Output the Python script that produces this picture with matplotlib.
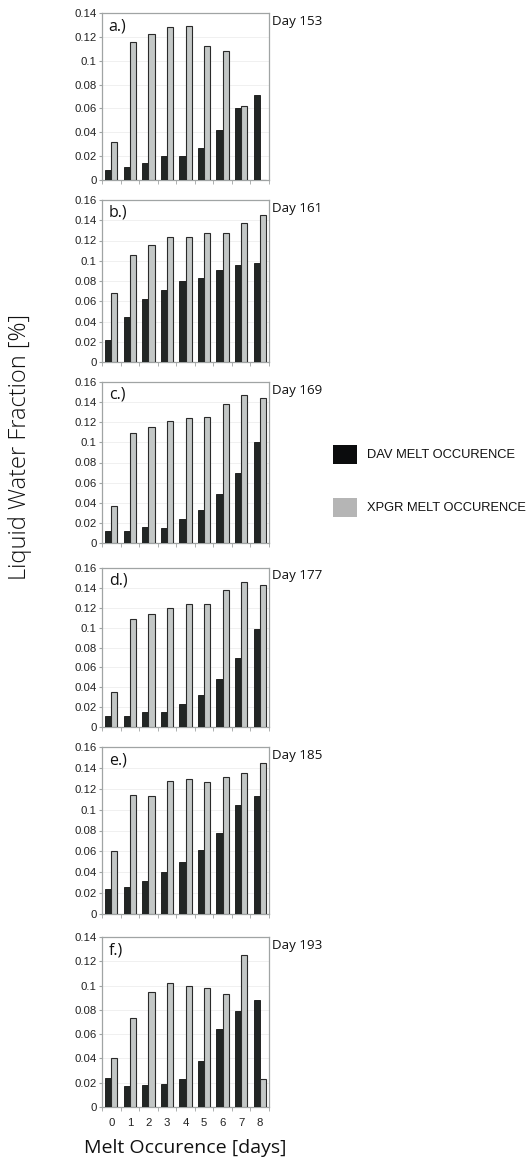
import numpy as np
import matplotlib
matplotlib.use('Agg')
import matplotlib.pyplot as plt
from matplotlib.ticker import FuncFormatter, FixedLocator
from matplotlib.patches import Rectangle

days = [0, 1, 2, 3, 4, 5, 6, 7, 8]
panel_labels = ['a.)', 'b.)', 'c.)', 'd.)', 'e.)', 'f.)']
day_labels = ['Day 153', 'Day 161', 'Day 169', 'Day 177', 'Day 185', 'Day 193']
y_max = [0.14, 0.16, 0.16, 0.16, 0.16, 0.14]

dav_a = [0.008, 0.011, 0.014, 0.020, 0.020, 0.027, 0.042, 0.060, 0.071]
xpgr_a = [0.032, 0.116, 0.122, 0.128, 0.129, 0.112, 0.108, 0.062, 0.0]
dav_b = [0.022, 0.044, 0.062, 0.071, 0.080, 0.083, 0.091, 0.096, 0.098]
xpgr_b = [0.068, 0.106, 0.116, 0.123, 0.123, 0.127, 0.127, 0.137, 0.145]
dav_c = [0.012, 0.012, 0.016, 0.015, 0.024, 0.033, 0.049, 0.070, 0.100]
xpgr_c = [0.037, 0.109, 0.115, 0.121, 0.124, 0.125, 0.138, 0.147, 0.144]
dav_d = [0.011, 0.011, 0.015, 0.015, 0.023, 0.032, 0.048, 0.069, 0.099]
xpgr_d = [0.035, 0.109, 0.114, 0.120, 0.124, 0.124, 0.138, 0.146, 0.143]
dav_e = [0.024, 0.026, 0.032, 0.040, 0.050, 0.061, 0.078, 0.104, 0.113]
xpgr_e = [0.060, 0.114, 0.113, 0.127, 0.129, 0.126, 0.131, 0.135, 0.145]
dav_f = [0.024, 0.017, 0.018, 0.019, 0.023, 0.038, 0.064, 0.079, 0.088]
xpgr_f = [0.040, 0.073, 0.095, 0.102, 0.100, 0.098, 0.093, 0.125, 0.023]

dav_all = [dav_a, dav_b, dav_c, dav_d, dav_e, dav_f]
xpgr_all = [xpgr_a, xpgr_b, xpgr_c, xpgr_d, xpgr_e, xpgr_f]

DAV_COLOR = '#222625'
XPGR_COLOR = '#c3c7c6'
W, H = 531, 1167

# panel extents in pixels (top, bottom)
panel_px = [(13, 180), (200, 362), (382, 543), (568, 727), (747, 914), (937, 1107)]
left_px, right_px = 102, 269

fig = plt.figure(figsize=(W / 100, H / 100), dpi=100)

fmt = FuncFormatter(lambda v, p: '0' if abs(v) < 1e-9 else ('%.2f' % v).rstrip('0'))
x = np.arange(len(days))
bw = 0.33

for i in range(6):
    top, bot = panel_px[i]
    ax = fig.add_axes([left_px / W, 1 - bot / H, (right_px - left_px) / W, (bot - top) / H])
    ax.bar(x - bw / 2, dav_all[i], bw, color=DAV_COLOR, edgecolor='#111111', linewidth=0.6, zorder=3)
    ax.bar(x + bw / 2, xpgr_all[i], bw, color=XPGR_COLOR, edgecolor='#2a2a2a', linewidth=0.8, zorder=3)
    ax.set_xlim(-0.5, 8.5)
    ax.set_ylim(0, y_max[i])
    ax.set_yticks(np.arange(0, y_max[i] + 1e-9, 0.02))
    ax.yaxis.set_major_formatter(fmt)
    ax.grid(axis='y', color='#eeeeee', linewidth=0.6, zorder=0)
    for s in ax.spines.values():
        s.set_color('#a0a4a4')
        s.set_linewidth(0.9)
    ax.tick_params(axis='y', labelsize=8.2, length=2, color='#a0a4a4', pad=2, labelcolor='#222222')
    ax.set_xticks(x)
    ax.tick_params(axis='x', which='major', length=0, labelsize=8.2, labelcolor='#222222', pad=8)
    ax.xaxis.set_minor_locator(FixedLocator(np.arange(-0.5, 9, 1)))
    ax.tick_params(axis='x', which='minor', length=3, color='#a0a4a4', direction='out')
    if i == 5:
        ax.set_xticklabels([str(d) for d in days], family='Liberation Sans')
    else:
        ax.set_xticklabels([])
    for lab in ax.get_yticklabels():
        lab.set_family('Liberation Sans')
    ax.text(0.04, 0.97, panel_labels[i], transform=ax.transAxes, ha='left', va='top',
            fontsize=11.5, family='Open Sans', color='#111111')
    ax.text(1.02, 0.95, day_labels[i], transform=ax.transAxes, ha='left', va='center',
            fontsize=9.6, family='Open Sans', color='#111111')

fig.text(20 / W, 1 - 447 / H, 'Liquid Water Fraction [%]', rotation=90, ha='center', va='center',
         fontsize=17, family='Open Sans', fontweight='light', color='#111111')
fig.text(185 / W, 1 - 1148 / H, 'Melt Occurence [days]', ha='center', va='center',
         fontsize=14, family='Open Sans', color='#111111')

# legend drawn as figure patches
fig.patches.append(Rectangle((333 / W, 1 - 464 / H), 24 / W, 19 / H, transform=fig.transFigure,
                             facecolor='#0b0c0d', edgecolor='none'))
fig.patches.append(Rectangle((333 / W, 1 - 517 / H), 24 / W, 19 / H, transform=fig.transFigure,
                             facecolor='#b5b5b5', edgecolor='none'))
fig.text(367 / W, 1 - 455 / H, 'DAV MELT OCCURENCE', ha='left', va='center',
         fontsize=9.3, family='Liberation Sans', color='#111111')
fig.text(367 / W, 1 - 508 / H, 'XPGR MELT OCCURENCE', ha='left', va='center',
         fontsize=9.3, family='Liberation Sans', color='#111111')

fig.savefig('out.png', dpi=100, facecolor='white')
